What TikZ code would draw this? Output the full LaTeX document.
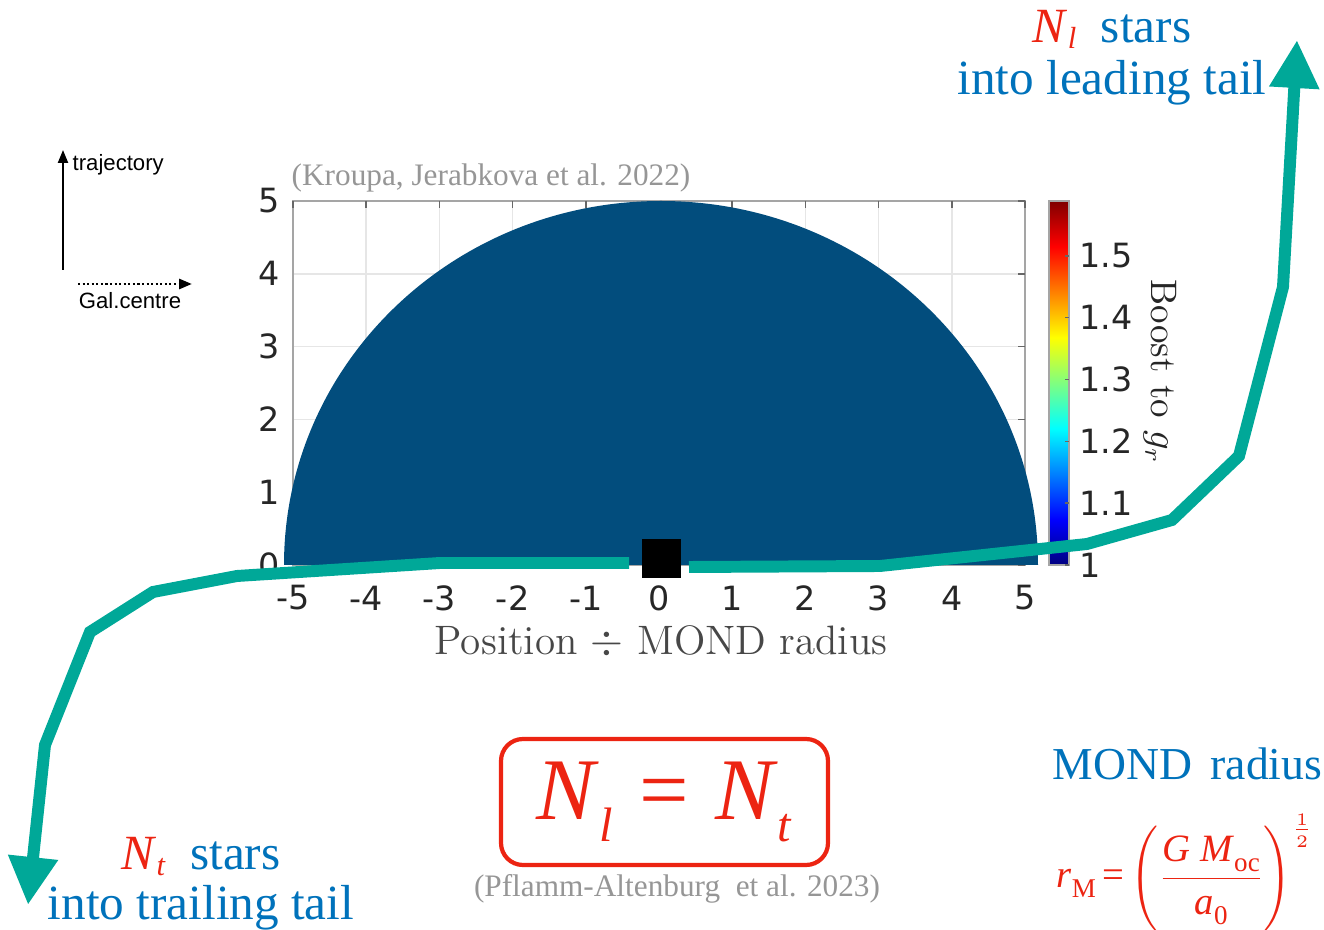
\documentclass[tikz,border=0pt]{standalone}
\usepackage{fontspec}
\setmainfont{Liberation Serif}
\newfontfamily\keyfont{Liberation Sans}
\newfontfamily\tickfont{DejaVu Sans}
\usepackage{graphicx}
\usepackage{tikz}
\usetikzlibrary{arrows.meta, positioning}
\usepackage{xcolor}

\definecolor{trackteal}{RGB}{0,168,152}
\definecolor{slideblue}{RGB}{0,114,187}
\definecolor{slidered}{RGB}{236,36,18}
\definecolor{discblue}{RGB}{2,77,125}
\definecolor{citegray}{RGB}{150,150,150}
\definecolor{gridgray}{RGB}{230,230,230}
\definecolor{framegray}{RGB}{165,165,165}
\definecolor{ticktext}{RGB}{38,38,38}
\definecolor{jetlo}{rgb}{0,0,0.5}
\definecolor{jethi}{rgb}{0.5,0,0}
\pgfdeclareverticalshading{jet}{100bp}{color(0bp)=(jetlo); color(25bp)=(jetlo);
  color(31.25bp)=(blue); color(43.75bp)=(cyan); color(56.25bp)=(yellow);
  color(68.75bp)=(red); color(75bp)=(jethi); color(100bp)=(jethi)}

\newcommand{\lowsub}[2][0.55]{\raisebox{-0.25em}{\scalebox{#1}{#2}}}
\newcommand{\textsub}[1]{\raisebox{-0.12em}{\scalebox{0.62}{#1}}}

\begin{document}
\begin{tikzpicture}[
  track/.style={line width=3.4pt, trackteal, -{Triangle[length=4.8mm, width=4.7mm]}},
  keyarrow/.style={line width=0.6pt, -{Triangle[length=1.3mm, width=1mm]}},
  keytext/.style={font=\keyfont\fontsize{6.3}{7.5}\selectfont, inner sep=0pt},
  tick/.style={font=\tickfont\fontsize{9.5}{11}\selectfont, text=ticktext, inner sep=1pt},
  cite/.style={font=\fontsize{8.9}{10}\selectfont, text=citegray, inner sep=0pt},
  tail/.style={font=\fontsize{14}{15}\selectfont, text=slideblue, inner sep=0pt, anchor=base}
]
\useasboundingbox (0,0) rectangle (13.24,-9.30);

% grid and frame of the plot
\foreach \k in {-5,...,5}
  \draw[gridgray, line width=0.5pt] ({6.59+0.732*\k},-2.01) -- ({6.59+0.732*\k},-5.65);
\foreach \j in {0,...,5}
  \draw[gridgray, line width=0.5pt] (2.93,{-5.65+0.728*\j}) -- (10.25,{-5.65+0.728*\j});
\draw[framegray, line width=0.5pt] (2.93,-2.01) rectangle (10.25,-5.65);
\foreach \k in {-5,...,5}
  \draw[ticktext!70, line width=0.5pt] ({6.59+0.732*\k},-2.01) -- ++(0,-0.07);
\foreach \j in {0,...,5}
  \draw[ticktext!70, line width=0.5pt] (10.25,{-5.65+0.728*\j}) -- ++(-0.07,0);

% the boost region
\fill[discblue] (2.84,-5.65) arc[start angle=180, end angle=0, x radius=3.77, y radius=3.64] -- cycle;

% tick labels
\foreach \k in {-5,...,5}
  \node[tick] (xt\k) at ({6.59+0.732*\k},-5.98) {\k};
\foreach \j in {0,...,5}
  \node[tick, anchor=east] (yt\j) at (2.84,{-5.65+0.728*\j}) {\j};
\node[font=\fontfamily{lmr}\fontsize{11.7}{13}\selectfont, text=ticktext!85] (xlab) at (6.61,-6.42)
  {Position $\div$ MOND radius};

% colour bar
\shade[shading=jet] (10.49,-5.65) rectangle (10.69,-2.01);
\draw[framegray, line width=0.3pt] (10.49,-5.65) rectangle (10.69,-2.01);
\foreach \v [count=\i] in {1,1.1,1.2,1.3,1.4,1.5} {
  \draw[ticktext!70, line width=0.4pt] (10.69,{-5.65+(\i-1)*0.618}) -- ++(-0.04,0);
  \node[tick, anchor=west] (cbt\i) at (10.75,{-5.65+(\i-1)*0.618}) {\v};
}
\node[rotate=-90, font=\fontfamily{lmr}\fontsize{10.5}{12}\selectfont, text=ticktext] (cblab) at (11.60,-3.72)
  {Boost to $g_r$};

\node[cite, anchor=west] (kroupa) at (2.91,-1.78) {(Kroupa, Jerabkova et al. 2022)};

% key
\coordinate (trajfoot) at (0.63,-2.70);
\coordinate (trajhead) at (0.63,-1.50);
\draw[keyarrow] (trajfoot) -- (trajhead);
\node[keytext, anchor=west] (trajlab) at (0.72,-1.65) {trajectory};
\coordinate (galfoot) at (0.78,-2.84);
\coordinate (galhead) at (1.92,-2.84);
\draw[keyarrow, line width=0.8pt, dash pattern=on 0.6pt off 0.7pt] (galfoot) -- (galhead);
\node[keytext] (gallab) at (1.30,-3.01) {Gal.centre};

% cluster and the two tails
\draw[track] (6.29,-5.63) -- (4.40,-5.63) -- (2.37,-5.76) -- (1.53,-5.92) -- (0.90,-6.32)
  -- (0.45,-7.45) -- (0.28,-9.05);
\draw[track] (6.89,-5.67) -- (8.80,-5.66) -- (10.87,-5.44) -- (11.72,-5.20) -- (12.39,-4.56)
  -- (12.83,-2.87) -- (12.97,-0.40);
\node[fill=black, minimum size=0.39cm, inner sep=0pt] (clus) at (6.615,-5.585) {};

\node[tail] (leadnum) at (11.12,-0.43) {\textcolor{slidered}{\textit{N}\textsub{\textit{l}}}~ stars};
\node[tail] (leadtxt) at (11.12,-0.95) {into leading tail};
\node[tail] (trailnum) at (2.01,-8.70) {\textcolor{slidered}{\textit{N}\textsub{\textit{t}}}~ stars};
\node[tail] (trailtxt) at (2.01,-9.20) {into trailing tail};

% balance of the tails
\node[draw=slidered, line width=1.2pt, rounded corners=0.22cm, minimum width=3.27cm,
  minimum height=1.26cm, text=slidered, font=\fontsize{25}{28}\selectfont, inner sep=0pt]
  (balance) at (6.645,-8.02)
  {\textit{N}\lowsub{\textit{l}}\hspace{0.3em}=\hspace{0.3em}\textit{N}\lowsub{\textit{t}}};
\node[cite] (pflamm) at (6.77,-8.89) {(Pflamm-Altenburg~ et al. 2023)};

% MOND radius
\node[tail, anchor=base west, font=\fontsize{13}{15}\selectfont] (mondtxt) at (10.52,-7.80)
  {MOND\hspace{0.4em}radius};
\node[anchor=base west, inner sep=0pt, text=slidered, font=\fontsize{11}{13}\selectfont] (mondeq)
  at (10.56,-8.88)
  {\textit{r}\lowsub[0.7]{M}\,=\,$\Biggl(\displaystyle\frac{\mbox{\textit{G M}\lowsub[0.7]{oc}}}{\mbox{\textit{a}\lowsub[0.7]{0}}}\Biggr)^{\frac{1}{2}}$};
\end{tikzpicture}
\end{document}
